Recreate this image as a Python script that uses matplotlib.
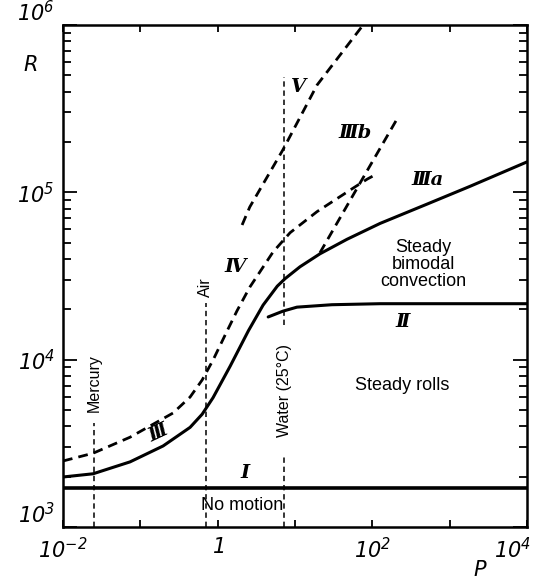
import numpy as np
import matplotlib
matplotlib.use("Agg")
import matplotlib.pyplot as plt
import matplotlib.transforms as mtransforms

# ── Data ───────────────────────────────────────────────────────────────────────
# lower bound of motion, line I
I_P = [1e-2, 1e4]
I_R = [1708, 1708]

# solid curve III -> IIIa
III_P = [0.01, 0.0245, 0.0736, 0.197, 0.44, 0.63, 0.872, 1.45, 2.5, 3.87, 5.9,
         7.45, 11.6, 21, 47, 126, 512, 1840, 1e4]
III_R = [1990, 2080, 2450, 3050, 3940, 4720, 5930, 9140, 14900, 21200, 27500,
         30500, 35900, 42900, 52400, 65200, 85100, 108700, 152000]

# solid curve II
II_P = [4.5, 7, 10.6, 30, 126, 1e4]
II_R = [18000, 19500, 20600, 21300, 21600, 21600]

# dashed curve IV (and its lower branch)
IV_P = [0.01, 0.0245, 0.0736, 0.265, 0.44, 0.63, 0.872, 1.32, 1.78, 2.6, 5.2,
        8.65, 19.3, 56.5, 86, 115]
IV_R = [2480, 2760, 3440, 4800, 5980, 7560, 9950, 14800, 19600, 27100, 44000,
        57400, 76700, 106000, 120000, 129000]

# dashed curve IIIb
IIIb_P = [21, 86, 216]
IIIb_R = [43500, 135000, 282000]

# dashed curve V
V_P = [2.07, 2.6, 7, 19.3, 76]
V_R = [63800, 81700, 180000, 438000, 1e6]

# fluids (Prandtl numbers) and vertical extent of their markers
fluids = ["Mercury", "Air", "Water (25°C)"]
fluid_P = [0.025, 0.7, 7.3]
fluid_segments = [[(1e3, 4180)], [(1e3, 21800)], [(1e3, 2690), (16100, 489000)]]
fluid_label_R = [7250, 27200, 6580]

# curve labels
curve_labels = ["Ⅰ", "Ⅱ", "Ⅲ", "Ⅲa", "Ⅲb", "Ⅳ", "Ⅴ"]
curve_label_P = [2.26, 250, 0.17, 512, 60, 1.68, 11]
curve_label_R = [2100, 16800, 3640, 118000, 226000, 35700, 425000]
curve_label_rot = [0, 0, 25, 0, 0, 0, 0]

# region labels
regions = ["Steady\nbimodal\nconvection", "Steady rolls", "No motion"]
region_P = [454, 243, 2.07]
region_R = [37300, 7050, 1350]

x_ticks = [1e-2, 1e-1, 1, 10, 1e2, 1e3, 1e4]
x_ticklabels = ["$10^{-2}$", "", "$1$", "", "$10^{2}$", "", "$10^{4}$"]
y_ticks = [1e3, 1e4, 1e5, 1e6]
y_ticklabels = ["$10^{3}$", "$10^{4}$", "$10^{5}$", "$10^{6}$"]

# ── Style ─────────────────────────────────────────────────────────────────────
plt.rcParams["mathtext.fontset"] = "custom"
plt.rcParams["mathtext.rm"] = "DejaVu Sans:italic"
plt.rcParams["mathtext.it"] = "DejaVu Sans:italic"
plt.rcParams["font.family"] = ["Liberation Sans", "DejaVu Sans"]

SOLID = dict(color="black", lw=2.2, solid_capstyle="round", solid_joinstyle="round")
DASH = dict(color="black", lw=2.0, ls=(0, (3.5, 2.2)))
THIN = dict(color="black", lw=1.1, ls=(0, (3.5, 2.5)))

fig = plt.figure(figsize=(5.39, 5.80), dpi=100)
ax = fig.add_axes([63 / 539, 53 / 580, 464 / 539, 502 / 580])
ax.set_xscale("log")
ax.set_yscale("log")
ax.set_xlim(1e-2, 1e4)
ax.set_ylim(1e3, 1e6)

# ── Curves ────────────────────────────────────────────────────────────────────
ax.plot(I_P, I_R, color="black", lw=2.6)
ax.plot(III_P, III_R, **SOLID)
ax.plot(II_P, II_R, **SOLID)
ax.plot(IV_P, IV_R, **DASH)
ax.plot(IIIb_P, IIIb_R, **DASH)
ax.plot(V_P, V_R, **DASH)

for name, p, segs, rl in zip(fluids, fluid_P, fluid_segments, fluid_label_R):
    for lo, hi in segs:
        ax.plot([p, p], [lo, hi], **THIN)
    ax.text(p, rl, name, rotation=90, ha="center", va="center", fontsize=11.5)

for lab, p, r, rot in zip(curve_labels, curve_label_P, curve_label_R, curve_label_rot):
    ax.text(p, r, lab, ha="center", va="center", fontsize=14, rotation=rot,
            family=["DejaVu Serif", "DejaVu Sans"], style="italic", fontweight="bold")

for lab, p, r in zip(regions, region_P, region_R):
    ax.text(p, r, lab, ha="center", va="center", fontsize=13, linespacing=1.0)

# ── Axes ──────────────────────────────────────────────────────────────────────
ax.set_xticks(x_ticks)
ax.set_xticklabels(x_ticklabels, fontsize=15)
ax.xaxis.set_minor_locator(matplotlib.ticker.NullLocator())
ax.set_yticks(y_ticks)
ax.set_yticklabels(y_ticklabels, fontsize=15)
ax.yaxis.set_minor_locator(matplotlib.ticker.LogLocator(base=10, subs=np.arange(2, 10)))
ax.yaxis.set_minor_formatter(matplotlib.ticker.NullFormatter())
ax.tick_params(which="both", direction="in", top=True, right=True, width=1.3)
ax.tick_params(axis="x", which="major", length=5, pad=7)
ax.tick_params(axis="y", which="major", length=10, pad=6)
ax.tick_params(axis="y", which="minor", length=6)
for s in ax.spines.values():
    s.set_linewidth(1.8)

ylabels = ax.get_yticklabels()
ylabels[0].set_va("bottom")
ylabels[-1].set_va("bottom")

# keep the last x label inside the picture
last = ax.get_xticklabels()[-1]
last.set_transform(last.get_transform() +
                   mtransforms.ScaledTranslation(-14 / 100, 0, fig.dpi_scale_trans))

fig.text(30 / 539, 1 - 65 / 580, "$R$", fontsize=15, ha="center", va="center")
fig.text(480 / 539, 1 - 570 / 580, "$P$", fontsize=15, ha="center", va="center")

fig.savefig("out.png", dpi=100)
